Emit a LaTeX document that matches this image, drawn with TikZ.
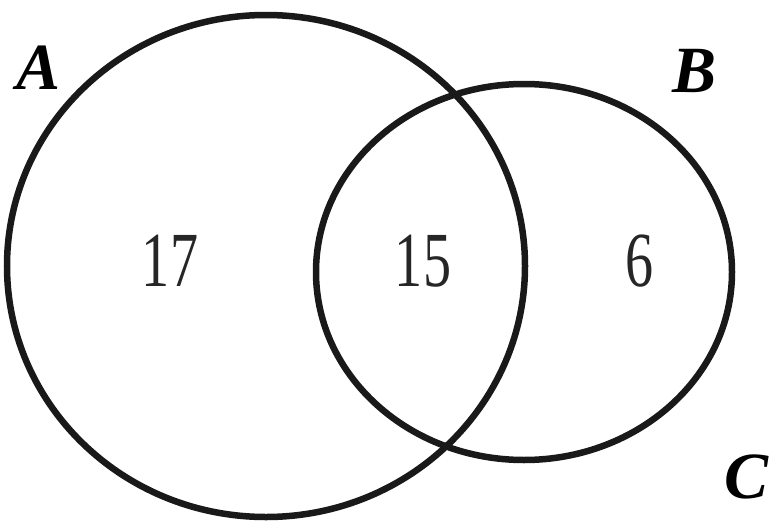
\documentclass[tikz,border=0pt]{standalone}
\usepackage{fontspec}
\setmainfont{Liberation Serif}
\tikzset{
  setline/.style={line width=6.5pt, draw=black!90},
  setname/.style={font=\fontsize{66}{66}\selectfont\bfseries\itshape, inner sep=0pt},
  count/.style={font=\fontsize{78}{78}\selectfont, inner sep=0pt, xscale=0.72, color=black!85},
}
\begin{document}
\begin{tikzpicture}[x=1pt,y=-1pt]
\useasboundingbox (0,0) rectangle (774,525);
\draw[setline] (266,266) ellipse [x radius=259, y radius=251];
\draw[setline] (524,272) ellipse [x radius=208, y radius=188];
\node[setname] (A) at (39,68) {A};
\node[setname] (B) at (695,71) {B};
\node[setname] (C) at (747,477) {C};
\node[count] (n17) at (170,261) {17};
\node[count] (n15) at (423,261) {15};
\node[count] (n6) at (640,261) {6};
\end{tikzpicture}
\end{document}
